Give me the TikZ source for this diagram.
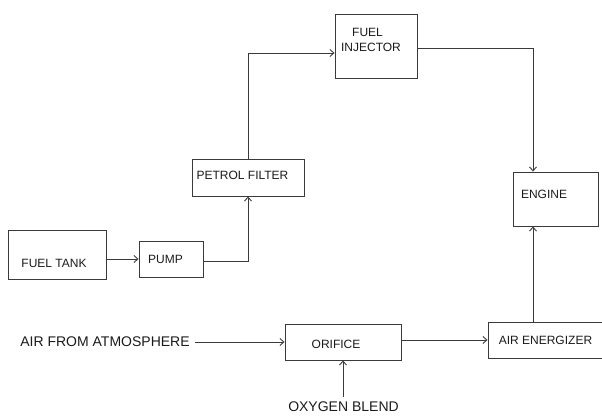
\documentclass[tikz,border=0pt]{standalone}
\usepackage{fontspec}
\setmainfont{Liberation Sans}
\usetikzlibrary{arrows.meta}
\definecolor{linecol}{HTML}{3A3A3A}
\definecolor{txtcol}{HTML}{1A1A1A}
\begin{document}
\begin{tikzpicture}[x=1pt,y=-1pt,
  box/.style={draw=linecol, line width=0.9pt, inner sep=0pt},
  lbl/.style={text=txtcol, font=\fontsize{12}{15}\selectfont, inner sep=0pt, anchor=base},
  ext/.style={text=txtcol, font=\fontsize{14}{16}\selectfont, inner sep=0pt, anchor=base},
  arr/.style={draw=linecol, line width=0.9pt, -{Straight Barb[length=4pt,width=7pt]}},
  conn/.style={draw=linecol, line width=0.9pt}]
\useasboundingbox (0,0) rectangle (602,415);
% boxes
\node[box, minimum width=98pt, minimum height=49pt] (tank) at (57,254.5) {};
\node[box, minimum width=64pt, minimum height=36pt] (pump) at (171,259) {};
\node[box, minimum width=112pt, minimum height=37pt] (filter) at (248,177.5) {};
\node[box, minimum width=82pt, minimum height=64pt] (injector) at (376,46) {};
\node[box, minimum width=85pt, minimum height=54pt] (engine) at (555.5,199) {};
\node[box, minimum width=124pt, minimum height=36pt] (energizer) at (550,340) {};
\node[box, minimum width=116pt, minimum height=36pt] (orifice) at (343,342) {};
% labels
\node[lbl] (tankl) at (54,267) {FUEL TANK};
\node[lbl] (pumpl) at (165.5,263) {PUMP};
\node[lbl] (filterl) at (242.5,179) {PETROL FILTER};
\node[lbl] (injl1) at (367.5,36) {FUEL};
\node[lbl] (injl2) at (371,51) {INJECTOR};
\node[lbl] (enginel) at (544,198) {ENGINE};
\node[lbl] (energl) at (545.5,344) {AIR ENERGIZER};
\node[lbl] (orifl) at (336,348) {ORIFICE};
\node[ext] (atm) at (105,346) {AIR FROM ATMOSPHERE};
\node[ext] (oxy) at (343.5,411.5) {OXYGEN BLEND};
% connectors
\draw[arr] (tank.east |- pump.west) -- (pump.west);
\draw[arr] ([yshift=-2pt]pump.east) -| (filter.south);
\draw[arr] (filter.north) |- ([yshift=-7pt]injector.west);
\draw[arr] ([yshift=-2pt]injector.east) -| ([xshift=-22.5pt]engine.north);
\coordinate (engb) at ([xshift=-22.5pt]engine.south);
\draw[arr] (energizer.north -| engb) -- (engb);
\coordinate (atme) at ([xshift=5pt]atm.east);
\draw[arr] (atme |- orifice.west) -- (orifice.west);
\draw[arr] (orifice.east |- energizer.west) -- (energizer.west);
\path (oxy.north) ++(0,-5) coordinate (oxyt);
\draw[arr] (oxyt -| orifice.south) -- (orifice.south);
\end{tikzpicture}
\end{document}
